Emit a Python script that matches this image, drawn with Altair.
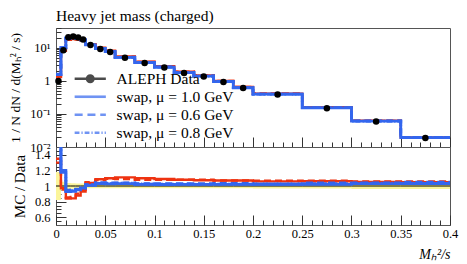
import altair as alt
import pandas as pd

# ---------------- data ----------------
edges = [0.0, 0.005, 0.01, 0.015, 0.02, 0.025, 0.03, 0.04, 0.05, 0.06, 0.08,
         0.1, 0.12, 0.14, 0.16, 0.18, 0.2, 0.25, 0.3, 0.35, 0.4]
data_vals = [1.0, 8.5, 21.0, 22.0, 20.5, 18.0, 12.3, 9.3, 7.5, 5.0, 3.5,
             2.56, 1.75, 1.37, 0.93, 0.61, 0.39, 0.15, 0.059, 0.0187]
data_errs = [0.18, 0.45, 0.8, 0.75, 0.65, 0.55, 0.35, 0.27, 0.22, 0.15, 0.1,
             0.075, 0.05, 0.04, 0.028, 0.018, 0.012, 0.005, 0.0022, 0.0007]
swap_10 = [1.6, 10.2, 19.5, 20.5, 19.5, 17.5, 12.4, 9.6, 7.7, 5.15, 3.57,
           2.61, 1.785, 1.40, 0.95, 0.622, 0.398, 0.153, 0.0608, 0.0193]
swap_06 = [1.55, 10.0, 19.9, 20.9, 19.7, 17.6, 12.5, 9.7, 7.8, 5.2, 3.6,
           2.64, 1.80, 1.41, 0.96, 0.63, 0.40, 0.156, 0.0614, 0.0196]
swap_08 = [1.58, 10.1, 19.7, 20.7, 19.6, 17.55, 12.5, 9.63, 7.76, 5.18, 3.59,
           2.62, 1.79, 1.40, 0.953, 0.625, 0.40, 0.1545, 0.0611, 0.0194]
other_a = [1.35, 8.25, 17.6, 18.5, 18.0, 16.7, 12.8, 10.1, 8.25, 5.55, 3.85,
           2.79, 1.89, 1.47, 0.995, 0.653, 0.413, 0.159, 0.062, 0.0196]
other_b = [1.3, 8.1, 17.9, 18.9, 18.5, 17.1, 12.9, 10.0, 8.2, 5.45, 3.78,
           2.76, 1.89, 1.48, 0.995, 0.653, 0.417, 0.16, 0.0625, 0.0198]

legend_names = ["ALEPH Data", "swap, \u03bc = 1.0 GeV",
                "swap, \u03bc = 0.6 GeV", "swap, \u03bc = 0.8 GeV"]

x_major = [0, 0.05, 0.1, 0.15, 0.2, 0.25, 0.3, 0.35, 0.4]
x_minor = [round(0.01 * i, 2) for i in range(1, 40) if i % 5 != 0]
y_major = [0.01, 0.1, 1, 10]
y_minor = [k * d for d in (0.01, 0.1, 1, 10) for k in range(2, 10) if k * d <= 40]
r_major = [0.6, 0.8, 1.0, 1.2, 1.4]
r_minor = [0.55, 0.65, 0.7, 0.75, 0.85, 0.9, 0.95, 1.05, 1.1, 1.15, 1.25, 1.3, 1.35, 1.45]

# ---------------- style ----------------
SERIF = "Liberation Serif"
BLUE = "#3366ee"
RED = "#ee3311"
W, H1, H2 = 394, 119, 78

# ---------------- tables ----------------
def step_rows(name, vals):
    rows = []
    for i, v in enumerate(vals):
        rows.append({"series": name, "x": edges[i], "y": v, "ratio": v / data_vals[i]})
    rows.append({"series": name, "x": edges[-1], "y": vals[-1],
                 "ratio": vals[-1] / data_vals[-1]})
    return rows

series_specs = [
    ("other (solid)", other_a, RED, None, 2.4),
    ("other (dashed)", other_b, RED, [7, 4], 2.4),
    (legend_names[2], swap_06, BLUE, [7, 4], 2.8),
    (legend_names[3], swap_08, BLUE, [5, 2, 1.5, 2], 2.8),
    (legend_names[1], swap_10, BLUE, None, 2.8),
]
rows = []
for name, vals, *_ in series_specs:
    rows += step_rows(name, vals)
steps = pd.DataFrame(rows)

pts = pd.DataFrame({
    "x": [(edges[i] + edges[i + 1]) / 2 for i in range(len(data_vals))],
    "y": data_vals,
})

band_rows = []
for i, (v, e) in enumerate(zip(data_vals, data_errs)):
    band_rows.append({"x": edges[i], "lo": 1 - e / v, "hi": 1 + e / v, "one": 1.0})
band_rows.append({"x": edges[-1], "lo": 1 - data_errs[-1] / data_vals[-1],
                  "hi": 1 + data_errs[-1] / data_vals[-1], "one": 1.0})
band = pd.DataFrame(band_rows)

legend_df = pd.DataFrame({"series": legend_names, "x": [0.1] * 4, "y": [1.0] * 4})

xs_top = alt.Scale(domain=[0, 0.4], nice=False, zero=False)
ys_top = alt.Scale(type="log", domain=[0.01, 40], nice=False)
xs_bot = alt.Scale(domain=[0, 0.4], nice=False, zero=False)
ys_bot = alt.Scale(domain=[0.5, 1.5], nice=False, zero=False)

common = dict(domain=False, grid=False, labelFlush=False, labelOverlap=False,
              tickColor="#333", labelColor="black", labelFont=SERIF, labelFontSize=12.5)


def ax_layer(df, xf, yf, xscale, yscale, xaxis=None, yaxis=None):
    return alt.Chart(df).mark_point(opacity=0).encode(
        x=alt.X(xf, type="quantitative", scale=xscale, axis=xaxis),
        y=alt.Y(yf, type="quantitative", scale=yscale, axis=yaxis))


def inward_x(h, values, size):
    return alt.Axis(orient="top", offset=-h, values=values, labels=False,
                    tickSize=size, title=None, **common)


def inward_y(values, size):
    return alt.Axis(orient="right", offset=-W, values=values, labels=False,
                    tickSize=size, title=None, **common)


def line_layers(df, yfield, xscale, yscale):
    out = []
    for name, _vals, color, dash, width in series_specs:
        kw = dict(interpolate="step-after", color=color, strokeWidth=width, clip=True)
        if dash:
            kw["strokeDash"] = dash
        out.append(alt.Chart(df).transform_filter(
            alt.datum.series == name).mark_line(**kw).encode(
            x=alt.X("x:Q", scale=xscale, axis=None),
            y=alt.Y(f"{yfield}:Q", scale=yscale, axis=None)))
    return out

# ---------------- top panel ----------------
circle = ("M0.8,0A0.8,0.8 0 1,1 -0.8,0A0.8,0.8 0 1,1 0.8,0"
          "M0.4,0A0.4,0.4 0 1,1 -0.4,0A0.4,0.4 0 1,1 0.4,0")
sym_paths = [
    "M-3.9,0H3.9" + circle,
    "M-3.9,0H3.9",
    "M-3.9,0H-1.9M-0.7,0H1.3M2.5,0H3.9",
    "M-3.9,0H-2.7M-2.2,0H-1.9M-1.4,0H-0.2M0.3,0H0.6M1.1,0H2.3M2.8,0H3.1M3.6,0H3.9",
]
leg = alt.Legend(title=None, orient="none", legendX=26.5, legendY=43,
                 labelFont=SERIF, labelFontSize=15.5, labelColor="black",
                 symbolSize=64, symbolStrokeWidth=2.6, symbolFillColor="transparent",
                 labelOffset=18.5, rowPadding=1, padding=0)
legend_layer = alt.Chart(legend_df).transform_filter("false").mark_point(
    filled=False, strokeWidth=2.6).encode(
    x=alt.X("x:Q", scale=xs_top, axis=None),
    y=alt.Y("y:Q", scale=ys_top, axis=None),
    shape=alt.Shape("series:N", scale=alt.Scale(domain=legend_names, range=sym_paths),
                    legend=leg),
    color=alt.Color("series:N", scale=alt.Scale(domain=legend_names,
                                                range=["black", BLUE, BLUE, BLUE]),
                    legend=leg),
)

top_points = alt.Chart(pts).mark_circle(size=42, color="black", opacity=1).encode(
    x=alt.X("x:Q", scale=xs_top, axis=None),
    y=alt.Y("y:Q", scale=ys_top, axis=None))

top_axes = [
    ax_layer(pts, "x", "y", xs_top, ys_top, xaxis=inward_x(H1, x_major, 10)),
    ax_layer(pts, "x", "y", xs_top, ys_top, xaxis=inward_x(H1, x_minor, 5)),
    ax_layer(pts, "x", "y", xs_top, ys_top, yaxis=inward_y(y_major, 10)),
    ax_layer(pts, "x", "y", xs_top, ys_top, yaxis=inward_y(y_minor, 5)),
    ax_layer(pts, "x", "y", xs_top, ys_top, yaxis=alt.Axis(
        orient="left", values=y_major, ticks=False, tickSize=0, labelPadding=6,
        labelExpr=("datum.value >= 5 ? '10\u00b9' : datum.value >= 0.5 ? '1' : "
                   "datum.value >= 0.05 ? '10\u207b\u00b9' : '10\u207b\u00b2'"),
        title="1 / N dN / d(M\u2095\u00b2 / s)", titleFont=SERIF, titleFontSize=13.5,
        titleFontWeight="normal", titleColor="black", titlePadding=7, **common)),
]

top = alt.layer(*line_layers(steps, "y", xs_top, ys_top), top_points, *top_axes,
                legend_layer).resolve_axis(x="independent", y="independent").properties(
    width=W, height=H1,
    title=alt.TitleParams("Heavy jet mass (charged)", anchor="start", frame="group",
                          font=SERIF, fontSize=15.5, fontWeight="normal", color="black",
                          offset=3))

# ---------------- ratio panel ----------------
band_layer = alt.Chart(band).mark_area(interpolate="step-after", color="#fbf59a",
                                       opacity=1, clip=True).encode(
    x=alt.X("x:Q", scale=xs_bot, axis=None),
    y=alt.Y("lo:Q", scale=ys_bot, axis=None),
    y2="hi:Q")
one_layer = alt.Chart(band).mark_line(interpolate="step-after", color="black",
                                      strokeWidth=1, clip=True).encode(
    x=alt.X("x:Q", scale=xs_bot, axis=None),
    y=alt.Y("one:Q", scale=ys_bot, axis=None))

bot_axes = [
    ax_layer(band, "x", "one", xs_bot, ys_bot, xaxis=inward_x(H2, x_major, 10)),
    ax_layer(band, "x", "one", xs_bot, ys_bot, xaxis=inward_x(H2, x_minor, 5)),
    ax_layer(band, "x", "one", xs_bot, ys_bot, yaxis=inward_y(r_major, 10)),
    ax_layer(band, "x", "one", xs_bot, ys_bot, yaxis=inward_y(r_minor, 5)),
    ax_layer(band, "x", "one", xs_bot, ys_bot, xaxis=alt.Axis(
        orient="bottom", values=x_major, ticks=False, tickSize=0, labelPadding=2,
        format="~g", title="M\u2095\u00b2/s", titleFont=SERIF, titleFontSize=14,
        titleFontStyle="italic", titleFontWeight="normal", titleColor="black",
        titleAnchor="end", titlePadding=8, **common)),
    ax_layer(band, "x", "one", xs_bot, ys_bot, yaxis=alt.Axis(
        orient="left", values=r_major, ticks=False, tickSize=0, labelPadding=6,
        format="~g", title="MC / Data", titleFont=SERIF, titleFontSize=15,
        titleFontWeight="normal", titleColor="black", titlePadding=7, **common)),
]

bottom = alt.layer(band_layer, one_layer, *line_layers(steps, "ratio", xs_bot, ys_bot),
                   *bot_axes).resolve_axis(x="independent", y="independent").properties(
    width=W, height=H2)

chart = alt.vconcat(top, bottom, spacing=0, bounds="flush").resolve_scale(
    color="independent", shape="independent").resolve_legend(
    color="independent", shape="independent").configure_view(
    stroke="#555", strokeWidth=1).properties(padding=0)

chart.save("out.html", embed_options={"renderer": "svg", "actions": False})
